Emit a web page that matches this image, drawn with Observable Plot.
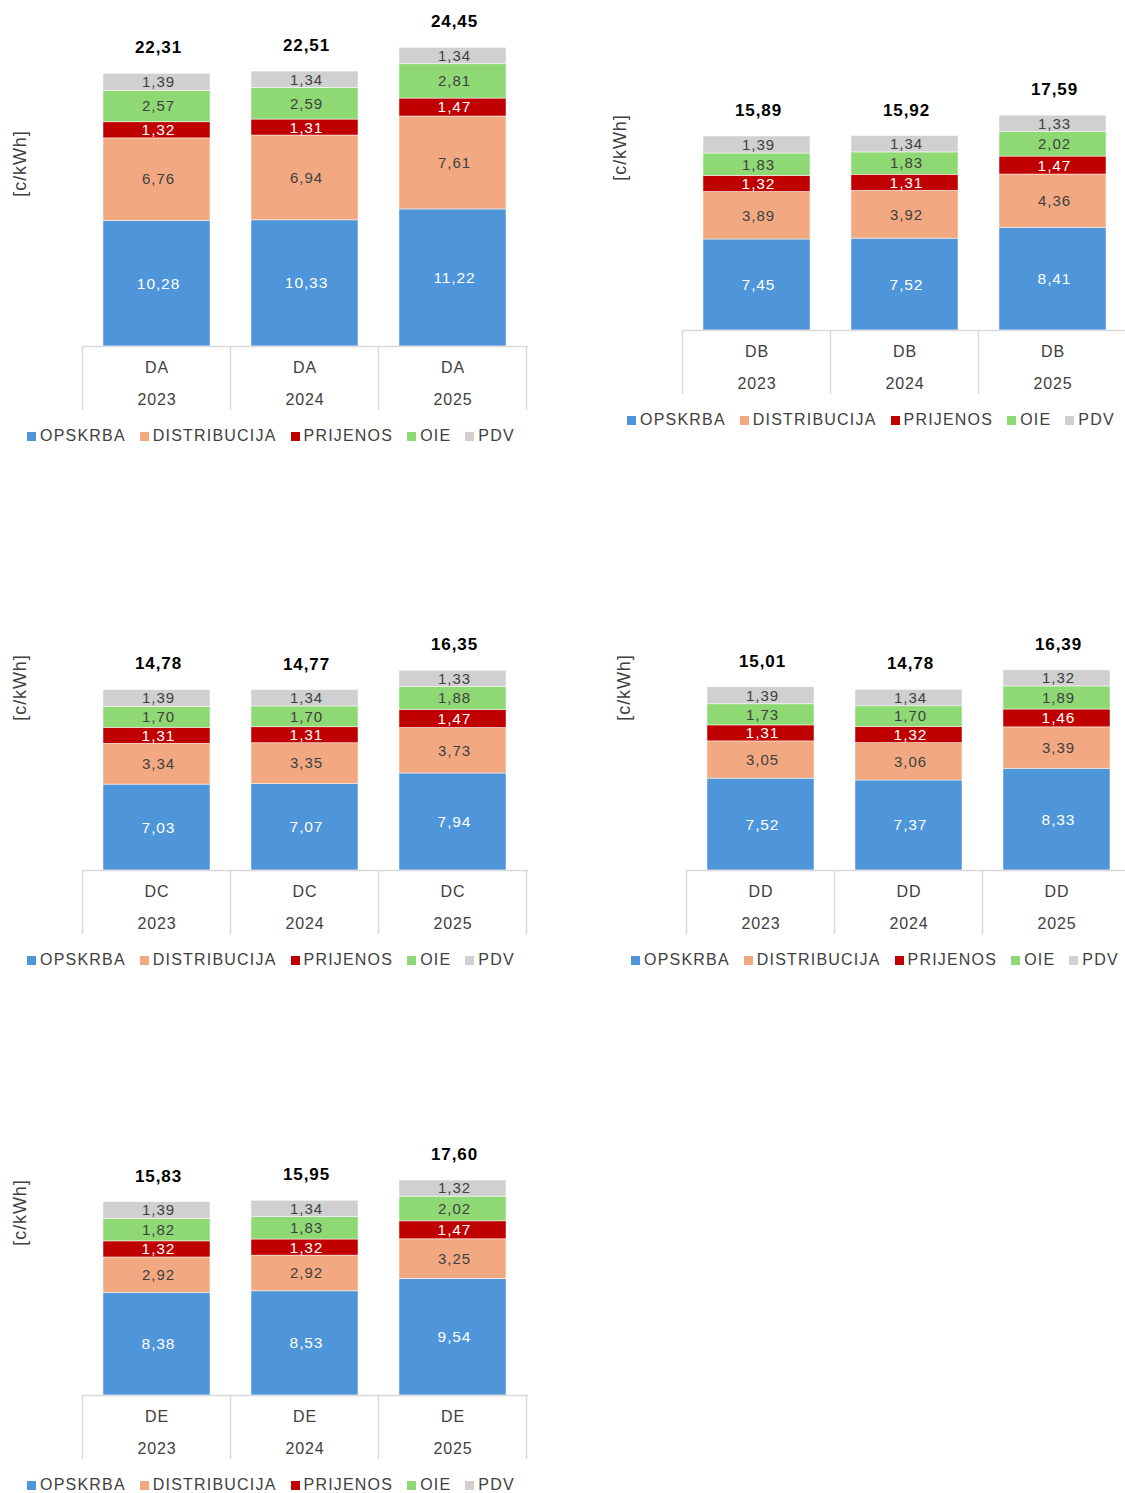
<!DOCTYPE html>
<html><head><meta charset="utf-8">
<script src="https://cdn.jsdelivr.net/npm/d3@7"></script>
<script src="https://cdn.jsdelivr.net/npm/@observablehq/plot@0.6"></script>
<style>
html,body{margin:0;padding:0;background:#fff}
body{width:1125px;height:1493px;overflow:hidden;position:relative;font-family:"Liberation Sans",Arial,sans-serif}
.panel{position:absolute;width:560px;height:460px}
.panel svg{position:absolute;left:0;top:0;overflow:visible}
.legend{position:absolute;display:flex;align-items:center;font-size:16px;color:#404040;letter-spacing:1.2px;white-space:nowrap;height:20px}
.legend .it{display:flex;align-items:center;margin-right:14px}
.legend .sw{display:inline-block;width:9px;height:9px;margin-right:4px}
</style></head><body>
<script>
// ---- data ----
const years = ["2023", "2024", "2025"];
const series = ["OPSKRBA", "DISTRIBUCIJA", "PRIJENOS", "OIE", "PDV"];
const colors = ["#4F95DA", "#F2A982", "#C00000", "#8FD974", "#D0D0D0"];
const yLabel = "[c/kWh]";

// values per series (bottom to top), per year
const DA_values = [[10.28, 10.33, 11.22], [6.76, 6.94, 7.61], [1.32, 1.31, 1.47], [2.57, 2.59, 2.81], [1.39, 1.34, 1.34]];
const DA_totals = [22.31, 22.51, 24.45];
const DB_values = [[7.45, 7.52, 8.41], [3.89, 3.92, 4.36], [1.32, 1.31, 1.47], [1.83, 1.83, 2.02], [1.39, 1.34, 1.33]];
const DB_totals = [15.89, 15.92, 17.59];
const DC_values = [[7.03, 7.07, 7.94], [3.34, 3.35, 3.73], [1.31, 1.31, 1.47], [1.70, 1.70, 1.88], [1.39, 1.34, 1.33]];
const DC_totals = [14.78, 14.77, 16.35];
const DD_values = [[7.52, 7.37, 8.33], [3.05, 3.06, 3.39], [1.31, 1.32, 1.46], [1.73, 1.70, 1.89], [1.39, 1.34, 1.32]];
const DD_totals = [15.01, 14.78, 16.39];
const DE_values = [[8.38, 8.53, 9.54], [2.92, 2.92, 3.25], [1.32, 1.32, 1.47], [1.82, 1.83, 2.02], [1.39, 1.34, 1.32]];
const DE_totals = [15.83, 15.95, 17.60];

const whiteText = new Set(["OPSKRBA", "PRIJENOS"]);
const fmt = v => v.toFixed(2).replace(".", ",");
const FONT = '"Liberation Sans", Arial, sans-serif';

function panel(name, values, totals, left, top) {
  const data = [];
  series.forEach((s, si) => years.forEach((yr, yi) => data.push({series: s, year: yr, value: values[si][yi]})));
  const tot = years.map((yr, i) => ({year: yr, total: totals[i]}));

  const chart = Plot.plot({
    width: 540, height: 415,
    marginLeft: 82, marginRight: 12, marginTop: 4, marginBottom: 69,
    style: {fontFamily: FONT, background: "transparent", overflow: "visible", letterSpacing: "0.9px"},
    x: {domain: years, paddingInner: 0.274, paddingOuter: 0.137, axis: null},
    y: {domain: [0, 28], axis: null},
    color: {domain: series, range: colors},
    marks: [
      Plot.barY(data, {x: "year", y: "value", fill: "series", stroke: "#ffffff", strokeWidth: 0.7, strokeOpacity: 0.7}),
      Plot.text(data, Plot.stackY({x: "year", y: "value", z: "series",
        text: d => whiteText.has(d.series) ? "" : fmt(d.value), fill: "#404040", fontSize: 15, dx: 1.5})),
      Plot.text(data, Plot.stackY({x: "year", y: "value", z: "series",
        text: d => whiteText.has(d.series) ? fmt(d.value) : "", fill: "#ffffff", fontSize: 15.5, dx: 1.5})),
      Plot.text(tot, {x: "year", y: "total", text: d => fmt(d.total), dy: -26, dx: 1.5, fontWeight: "bold", fontSize: 17, fill: "#000000"}),
      Plot.ruleY([0], {stroke: "#d9d9d9", strokeWidth: 1.5}),
      Plot.text(years, {x: d => d, text: () => name, frameAnchor: "bottom", lineAnchor: "middle", dy: 21, fontSize: 16, fill: "#404040"}),
      Plot.text(years, {x: d => d, text: d => d, frameAnchor: "bottom", lineAnchor: "middle", dy: 53, fontSize: 16, fill: "#404040"}),
      Plot.text([yLabel], {text: d => d, frameAnchor: "left", textAnchor: "middle", lineAnchor: "middle", rotate: -90, dx: -62, dy: -12, fontSize: 18, fill: "#404040"})
    ]
  });

  // category box separators, positioned from Plot's own scales
  const xs = chart.scale("x");
  const ys = chart.scale("y");
  const step = xs.step ?? (xs.range[1] - xs.range[0]) / years.length;
  const bw = xs.bandwidth ?? step * (1 - 0.274);
  const y0 = ys.apply(0);
  const bounds = years.map(yr => xs.apply(yr) - (step - bw) / 2);
  bounds.push(bounds[bounds.length - 1] + step);
  const svg = d3.select(chart);
  svg.append("g").selectAll("line").data(bounds).join("line")
    .attr("x1", d => d).attr("x2", d => d)
    .attr("y1", y0).attr("y2", y0 + 64)
    .attr("stroke", "#d9d9d9").attr("stroke-width", 1.5);

  const div = document.createElement("div");
  div.className = "panel";
  div.style.left = left + "px";
  div.style.top = top + "px";
  div.appendChild(chart);

  const lg = document.createElement("div");
  lg.className = "legend";
  lg.style.left = "27px";
  lg.style.top = (y0 + 80) + "px";
  series.forEach((s, i) => {
    const it = document.createElement("span");
    it.className = "it";
    const sw = document.createElement("span");
    sw.className = "sw";
    sw.style.background = colors[i];
    it.appendChild(sw);
    it.appendChild(document.createTextNode(s));
    lg.appendChild(it);
  });
  div.appendChild(lg);
  document.body.appendChild(div);
}

panel("DA", DA_values, DA_totals, 0, 0);
panel("DB", DB_values, DB_totals, 600, -16);
panel("DC", DC_values, DC_totals, 0, 524);
panel("DD", DD_values, DD_totals, 604, 524);
panel("DE", DE_values, DE_totals, 0, 1049);
</script>
</body></html>
